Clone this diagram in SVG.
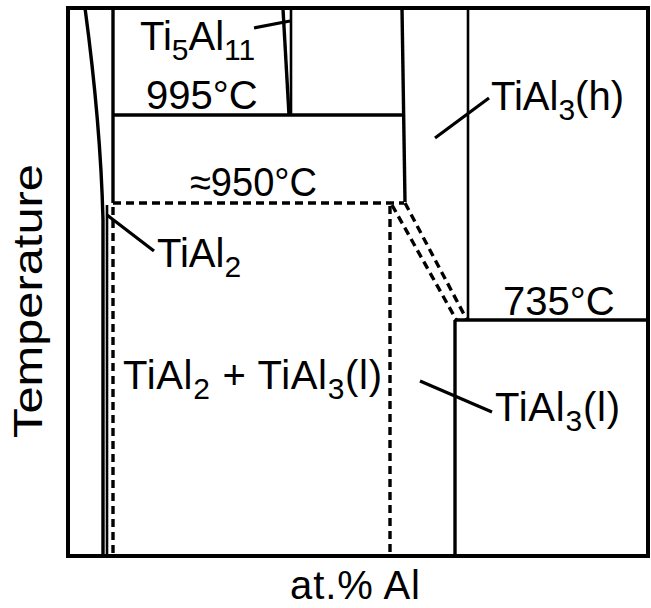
<svg xmlns="http://www.w3.org/2000/svg" width="651" height="608" viewBox="0 0 651 608">
  <style>
    .frame { fill: none; stroke: #000; stroke-width: 4; }
    .solid { fill: none; stroke: #000; stroke-width: 3.4; stroke-linecap: butt; }
    .thin { fill: none; stroke: #000; stroke-width: 2.6; }
    .dash { fill: none; stroke: #000; stroke-width: 3.4; stroke-dasharray: 8 5; }
    .lead { fill: none; stroke: #000; stroke-width: 3.2; }
    text { font-family: "Liberation Sans", Arial, Helvetica, sans-serif; font-size: 40px; fill: #000; }
    .sub { font-size: 30px; }
  </style>
  <rect width="651" height="608" fill="#fff"/>

  <g id="frame">
    <rect class="frame" x="68" y="8" width="580" height="548"/>
  </g>

  <g id="phase-boundaries">
    <path class="solid" d="M85,8 C92,60 101,140 103,220 L103,556"/>
    <path class="thin" d="M107,205 L107,556"/>
    <path class="solid" d="M113,8 L113,203"/>
    <path class="solid" d="M113,115 L404,115"/>
    <path class="solid" d="M402,8 L405,202"/>
    <path class="solid" d="M283,9 L289,115"/>
    <path class="thin" d="M291,9 L291,115"/>
    <path class="thin" d="M468,8 L468,320"/>
    <path class="solid" d="M455,320 L648,320"/>
    <path class="solid" d="M455,320 L455,556"/>
  </g>

  <g id="dashed-boundaries">
    <path class="dash" d="M113,203 L404,203"/>
    <path class="dash" d="M113,207 L113,556"/>
    <path class="dash" d="M390,206 L390,556"/>
    <path class="dash" d="M392,205 L457,321"/>
    <path class="dash" d="M405,203 L467,320"/>
  </g>

  <g id="leaders">
    <path class="lead" d="M254,28 L290,21"/>
    <path class="lead" d="M435,138 L489,98"/>
    <path class="lead" d="M107,215 L154,251"/>
    <path class="lead" d="M420,381 L492,412"/>
  </g>

  <g id="labels">
    <text x="140" y="50">Ti<tspan class="sub" dy="10">5</tspan><tspan dy="-10">Al</tspan><tspan class="sub" dy="10">11</tspan></text>
    <text x="146" y="109">995°C</text>
    <text x="190" y="196" textLength="127" lengthAdjust="spacingAndGlyphs">≈950°C</text>
    <text x="491" y="110">TiAl<tspan class="sub" dy="10">3</tspan><tspan dy="-10">(h)</tspan></text>
    <text x="157" y="267">TiAl<tspan class="sub" dy="10">2</tspan></text>
    <text x="503" y="315">735°C</text>
    <text x="123" y="389" textLength="259" lengthAdjust="spacing">TiAl<tspan class="sub" dy="10">2</tspan><tspan dy="-10"> + TiAl</tspan><tspan class="sub" dy="10">3</tspan><tspan dy="-10">(l)</tspan></text>
    <text x="495" y="421" textLength="125" lengthAdjust="spacing">TiAl<tspan class="sub" dy="10">3</tspan><tspan dy="-10">(l)</tspan></text>
    <text x="290" y="599" textLength="130" lengthAdjust="spacing">at.% Al</text>
    <text transform="translate(42,301) rotate(-90) scale(1.22,1)" text-anchor="middle">Temperature</text>
  </g>
</svg>
